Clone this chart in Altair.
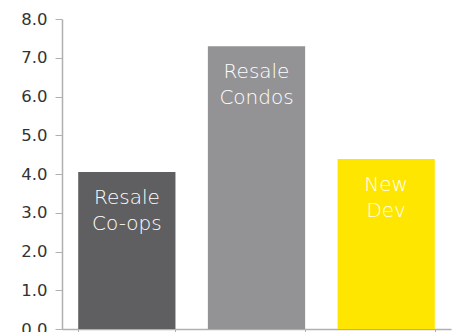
import altair as alt
import pandas as pd

categories = ["Resale Co-ops", "Resale Condos", "New Dev"]
labels = ["Resale\nCo-ops", "Resale\nCondos", "New\nDev"]
values = [4.05, 7.30, 4.39]
colors = ["#5f5f61", "#939396", "#ffe600"]

df = pd.DataFrame({"category": categories, "label": labels, "value": values})

x = alt.X("category:N", sort=categories,
          scale=alt.Scale(paddingInner=0.25, paddingOuter=0.125),
          axis=alt.Axis(labels=False, title=None, tickBand="extent",
                        domainColor="#b0b0b0", tickColor="#b0b0b0",
                        tickSize=5, domainWidth=1.5))
y = alt.Y("value:Q", scale=alt.Scale(domain=[0, 8], nice=False),
          axis=alt.Axis(values=[0, 1, 2, 3, 4, 5, 6, 7, 8], format=".1f",
                        title=None, grid=False, tickSize=7, labelPadding=8,
                        labelFont="DejaVu Sans", labelFontSize=16.5,
                        labelOverlap=False, labelFlush=False,
                        labelColor="#333333", domainColor="#b0b0b0",
                        tickColor="#b0b0b0", domainWidth=1.5, labelBaseline="middle"))

bars = alt.Chart(df).mark_bar().encode(
    x=x, y=y,
    color=alt.Color("category:N", sort=categories,
                    scale=alt.Scale(domain=categories, range=colors), legend=None),
)

text = alt.Chart(df).mark_text(
    align="center", baseline="top", dy=16, lineHeight=26, fontSize=20,
    font="DejaVu Sans", fontWeight=300, color="white", lineBreak="\n"
).encode(
    x=x, y=y,
    text="label:N",
)

chart = (bars + text).properties(
    width=389, height=310,
    autosize=alt.AutoSizeParams(type="none"),
    padding={"left": 62, "top": 19, "right": 8, "bottom": 3},
).configure_view(stroke=None)

chart.save("out.html", embed_options={"renderer": "svg", "actions": False})
